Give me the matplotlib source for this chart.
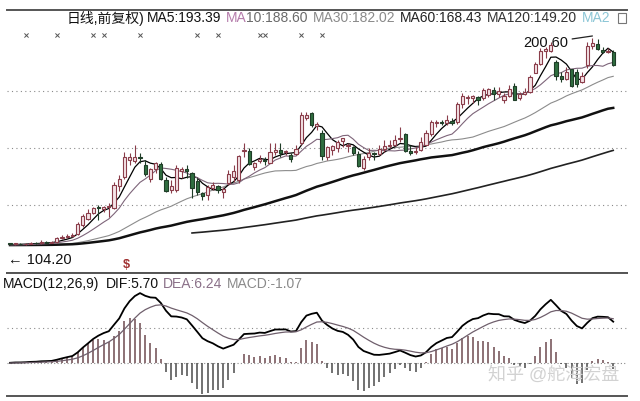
import matplotlib
matplotlib.use("Agg")
import matplotlib.pyplot as plt
from matplotlib.patches import Rectangle
import numpy as np
import pandas as pd

plt.rcParams['font.family'] = ['Liberation Sans', 'Noto Sans CJK SC', 'DejaVu Sans']

# daily candles (qfq)
opens = [105.0, 104.6, 104.9, 104.5, 104.8, 105.2, 105.0, 105.6, 105.3, 105.6,
         107.5, 108.0, 108.6, 109.5, 113.5, 116.5, 119.0, 121.8, 121.0, 122.0,
         121.5, 131.5, 136.0, 144.0, 143.5, 145.3, 141.5, 135.2, 139.5, 142.0,
         134.5, 130.0, 130.0, 138.5, 139.8, 138.0, 134.0, 128.5, 127.5, 131.0,
         131.5, 129.0, 133.0, 136.0, 134.5, 148.0, 148.0, 140.5, 143.5, 144.0,
         142.5, 147.5, 148.3, 147.5, 146.0, 146.5, 151.8, 163.5, 165.5, 159.5,
         156.4, 145.0, 148.5, 149.5, 152.5, 150.5, 150.0, 146.5, 140.0, 145.0,
         147.0, 146.5, 149.0, 150.5, 151.0, 153.5, 156.0, 148.0, 147.5, 148.5,
         151.0, 156.0, 161.0, 161.5, 161.0, 162.0, 161.5, 170.0, 172.5, 172.5,
         173.0, 172.5, 174.0, 176.5, 174.5, 172.0, 173.5, 178.5, 172.5, 174.5,
         175.5, 184.5, 188.5, 194.5, 194.5, 189.5, 183.0, 181.5, 186.0, 185.0,
         180.0, 188.0, 197.0, 198.0, 195.0, 194.0, 194.0]
highs = [105.4, 105.3, 105.2, 105.1, 105.6, 105.8, 106.4, 106.0, 105.9, 107.8,
         108.8, 109.2, 109.9, 115.0, 118.8, 121.0, 122.0, 123.0, 122.6, 124.0,
         133.5, 136.8, 147.4, 147.1, 150.8, 147.1, 143.8, 140.2, 143.0, 143.0,
         136.0, 134.5, 141.5, 140.6, 141.6, 138.2, 135.4, 129.0, 132.2, 133.6,
         132.2, 131.3, 139.2, 141.5, 146.2, 151.6, 149.2, 143.0, 146.2, 145.2,
         151.6, 151.6, 151.6, 148.5, 147.1, 150.8, 166.2, 166.2, 166.2, 161.5,
         157.8, 150.3, 150.8, 153.2, 154.1, 151.8, 150.3, 148.2, 145.8, 149.4,
         147.6, 150.8, 153.2, 153.2, 155.5, 159.2, 156.2, 150.8, 150.0, 154.5,
         157.8, 162.5, 162.5, 162.5, 164.8, 163.4, 171.0, 175.1, 174.0, 174.0,
         173.5, 177.5, 177.4, 177.9, 177.9, 175.1, 178.8, 179.7, 175.5, 177.4,
         183.4, 189.5, 196.0, 196.6, 199.0, 190.4, 184.8, 187.2, 186.2, 186.2,
         184.8, 199.0, 200.6, 200.0, 196.6, 196.0, 194.9]
lows = [104.2, 104.3, 104.2, 104.2, 104.5, 104.7, 104.8, 105.0, 105.0, 105.2,
        107.0, 107.4, 108.0, 109.0, 112.8, 115.8, 118.6, 116.0, 119.5, 117.5,
        121.0, 129.5, 134.8, 141.5, 142.5, 142.4, 136.5, 133.6, 138.0, 134.5,
        128.9, 128.4, 129.0, 135.5, 135.5, 126.1, 127.5, 125.2, 125.2, 129.9,
        128.5, 126.1, 132.2, 133.6, 133.2, 145.0, 141.5, 139.2, 142.4, 141.5,
        142.4, 146.1, 145.2, 146.1, 143.0, 146.0, 150.8, 162.5, 159.2, 157.8,
        143.8, 143.8, 146.1, 147.6, 149.9, 147.6, 146.1, 140.5, 139.2, 143.8,
        143.8, 146.1, 147.6, 149.4, 150.5, 152.0, 147.6, 146.1, 146.5, 148.0,
        150.8, 155.0, 159.2, 160.0, 160.0, 160.0, 160.5, 168.0, 170.0, 170.4,
        169.5, 172.0, 173.0, 171.8, 173.2, 170.4, 173.0, 171.8, 172.0, 174.0,
        175.0, 184.3, 188.0, 191.3, 194.0, 181.0, 180.2, 181.0, 177.9, 177.9,
        179.5, 186.5, 195.5, 195.0, 193.5, 193.5, 187.8]
closes = [104.6, 104.9, 104.5, 104.8, 105.2, 105.0, 105.6, 105.3, 105.5, 107.3,
          108.2, 108.6, 109.0, 114.0, 117.8, 119.0, 121.3, 121.5, 122.0, 122.4,
          132.0, 135.0, 145.0, 145.0, 145.3, 144.8, 137.2, 139.5, 142.5, 135.0,
          129.5, 131.5, 140.0, 139.5, 138.5, 131.0, 129.0, 127.0, 131.2, 132.0,
          130.0, 130.5, 137.5, 138.5, 145.5, 148.5, 142.0, 142.5, 144.5, 143.2,
          147.5, 148.5, 147.0, 147.8, 144.5, 149.0, 165.0, 165.0, 160.0, 160.5,
          145.7, 150.0, 150.5, 152.0, 154.0, 151.0, 147.0, 141.0, 144.5, 147.0,
          146.5, 149.0, 150.5, 151.0, 153.0, 154.0, 148.0, 147.0, 148.0, 152.0,
          156.5, 161.5, 161.5, 161.0, 162.5, 161.0, 170.0, 173.5, 173.0, 173.5,
          172.0, 176.5, 177.0, 174.5, 176.0, 173.5, 177.0, 172.0, 174.5, 175.5,
          182.5, 188.5, 194.5, 195.5, 197.5, 183.0, 181.5, 185.0, 178.5, 179.0,
          183.0, 197.0, 198.5, 195.5, 194.0, 194.5, 188.0]

# flat price before the visible window (long suspension at the low)
prior_close = 104.20
prior_days = 120

ma_periods = [5, 10, 30, 60, 120]
ma_values = ['193.39', '188.60', '182.02', '168.43', '149.20']
grid_levels = [176.0, 149.4, 122.9]
cross_marks = [3, 9, 16, 18, 25, 36, 40, 48, 49, 56, 60]
low_label = '104.20'
high_label = '200.60'
dif_txt, dea_txt, macd_txt = '5.70', '6.24', '-1.07'

n = len(closes)
idx = np.arange(n)
full = pd.Series([prior_close] * prior_days + closes)
mas = {p: full.rolling(p).mean().values[prior_days:] for p in ma_periods}
ema12 = full.ewm(span=12, adjust=False).mean()
ema26 = full.ewm(span=26, adjust=False).mean()
dif = (ema12 - ema26)
dea = dif.ewm(span=9, adjust=False).mean()
dif = dif.values[prior_days:]
dea = dea.values[prior_days:]
hist = 2 * (dif - dea)

W, H = 640, 401
fig = plt.figure(figsize=(6.4, 4.01), dpi=100)
fig.patch.set_facecolor('white')

def fx(x):
    return x / W

def fy(y):
    return 1 - y / H

ax = fig.add_axes([fx(7), fy(273), fx(620), (273 - 10) / H])
ax2 = fig.add_axes([fx(7), fy(396), fx(620), (396 - 273) / H])

for a in (ax, ax2):
    a.set_xlim(-0.58, 118.65)
    a.set_xticks([])
    a.set_yticks([])
    a.spines['left'].set_visible(False)
    a.spines['right'].set_visible(False)
    a.spines['top'].set_color('#555555')
    a.spines['bottom'].set_color('#555555')
    a.spines['top'].set_linewidth(1.4)
    a.spines['bottom'].set_linewidth(1.4)
ax.set_ylim(91.2, 213.7)
ax2.set_ylim(-4.71, 12.86)

for g in grid_levels:
    ax.axhline(g, color='#8a8a8a', lw=0.8, ls=(0, (1, 3)))

# moving averages
ax.plot(idx, mas[5], color='black', lw=0.9, zorder=4)
ax.plot(idx, mas[10], color='#7d6479', lw=0.8, zorder=4)
ax.plot(idx, mas[30], color='#8c8c8c', lw=0.8, zorder=3)
ax.plot(idx, mas[60], color='#111111', lw=1.8, zorder=3)
ax.plot(idx[35:], mas[120][35:], color='#222222', lw=1.2, zorder=3)

# candles
up_edge, up_face = '#8a3d4a', '#f4e4e7'
dn_edge, dn_face = '#1f3d27', '#2f6e40'
for i in range(n):
    o, h, l, c = opens[i], highs[i], lows[i], closes[i]
    if c >= o:
        ec, fc = up_edge, up_face
    else:
        ec, fc = dn_edge, dn_face
    ax.vlines(i, l, h, color=ec, lw=0.8, zorder=5)
    body = max(abs(c - o), 0.35)
    ax.bar(i, body, bottom=min(o, c), width=0.62, color=fc, edgecolor=ec,
           linewidth=0.8, zorder=6)

ax.scatter(cross_marks, [202.1] * len(cross_marks), marker='x', s=9,
           color='#555555', lw=0.7, zorder=6)

# extreme labels
ax.annotate(high_label, xy=(112, 201.6), xytext=(107.3, 198.4), fontsize=10.5,
            ha='right', va='center', color='#111111',
            arrowprops=dict(arrowstyle='-', color='#222222', lw=0.9,
                            shrinkA=1, shrinkB=0))
fig.text(fx(8), fy(260), '\u2190 ' + low_label, fontsize=10.5, color='#111111',
         ha='left', va='center')
fig.text(fx(126), fy(265), '$', fontsize=9, color='#a03030', ha='center',
         va='center', fontweight='bold')

# title line
title_parts = [
    (67, '日线,前复权)', '#111111'),
    (147, 'MA5:' + ma_values[0], '#111111'),
    (226, 'MA', '#b57cab'),
    (246, '10:' + ma_values[1], '#6a6a6a'),
    (313, 'MA30:' + ma_values[2], '#8a8a8a'),
    (400, 'MA60:' + ma_values[3], '#222222'),
    (487, 'MA120:' + ma_values[4], '#333333'),
    (582, 'MA2', '#8cc6d6'),
]
for x, s, col in title_parts:
    fig.text(fx(x), fy(18), s, fontsize=10, color=col, ha='left', va='center')
fig.patches.append(Rectangle((fx(618), fy(23)), fx(8), 10 / H, fill=False,
                             edgecolor='#777777', lw=0.8,
                             transform=fig.transFigure, figure=fig))

# MACD panel
ax2.axhline(0, color='#8a8a8a', lw=0.8, ls=(0, (1, 2)))
ax2.axhline(5, color='#8a8a8a', lw=0.8, ls=(0, (1, 3)))
pos = hist >= 0
ax2.vlines(idx[pos], 0, hist[pos], color='#6e4a50', lw=1.1)
ax2.vlines(idx[~pos], 0, hist[~pos], color='#4a4a4a', lw=1.1)
ax2.plot(idx, dif, color='black', lw=1.3)
ax2.plot(idx, dea, color='#6f5f6c', lw=0.9)

macd_parts = [
    (3, 'MACD(12,26,9)', '#111111'),
    (106, 'DIF:' + dif_txt, '#111111'),
    (163, 'DEA:' + dea_txt, '#8a7088'),
    (227, 'MACD:' + macd_txt, '#8a8a8a'),
]
for x, s, col in macd_parts:
    fig.text(fx(x), fy(284), s, fontsize=10, color=col, ha='left', va='center')

fig.text(fx(488), fy(375), '知乎 @舵海宏盘', fontsize=13, color='#d2d2d2',
         ha='left', va='center')

fig.savefig('out.png', dpi=100)
